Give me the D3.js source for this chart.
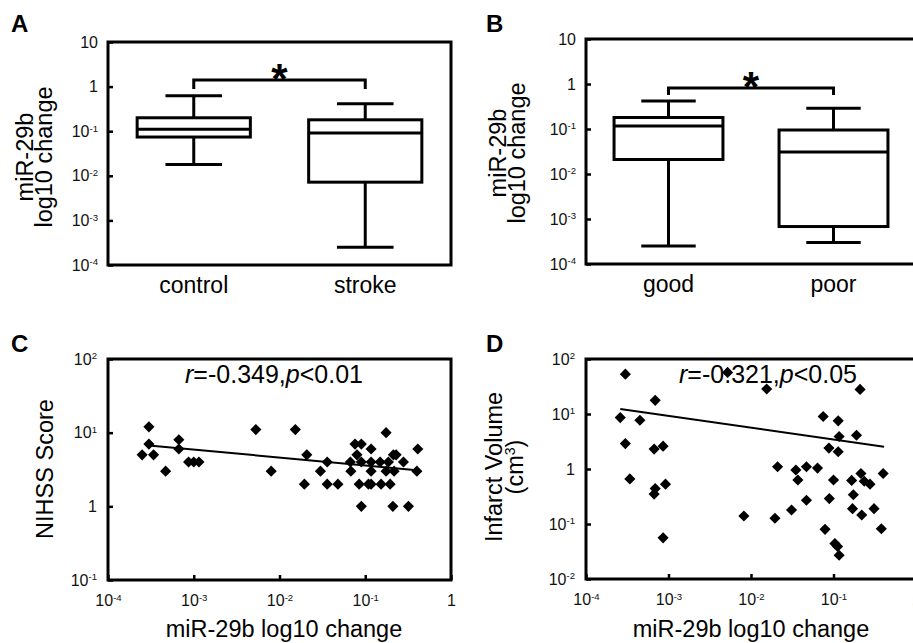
<!DOCTYPE html>
<html lang="en">
<head>
<meta charset="UTF-8">
<title>miR-29b box plots and correlations</title>
<script src="https://d3js.org/d3.v7.min.js"></script>
<style>
  body { margin: 0; background: #fff; }
  svg { display: block; font-family: "Liberation Sans", Arial, sans-serif; }
  .frame { fill: none; stroke: #000; stroke-width: 3px; }
  .tick line { stroke: #000; stroke-width: 2.5px; }
  .tick text { font-size: 16px; fill: #111; }
  .box { fill: #fff; stroke: #000; stroke-width: 3px; }
  .whisk { stroke: #000; stroke-width: 3px; fill: none; }
  .fit { stroke: #000; stroke-width: 2px; fill: none; }
</style>
</head>
<body>
<svg width="913" height="643"></svg>
<script>
// A: control vs stroke
const catsA = ["control", "stroke"];
const loA = [0.018, 0.00025];
const q1A = [0.074, 0.0072];
const medA = [0.11, 0.091];
const q3A = [0.2, 0.18];
const hiA = [0.62, 0.41];
const bracketA = [1.4, 0.88]; // bar level, end of legs

// B: good vs poor outcome
const catsB = ["good", "poor"];
const loB = [0.00025, 0.0003];
const q1B = [0.021, 0.00068];
const medB = [0.117, 0.031];
const q3B = [0.18, 0.095];
const hiB = [0.42, 0.29];
const bracketB = [0.81, 0.57];

const boxTicks = [1e-4, 1e-3, 1e-2, 1e-1, 1, 10];

// C: miR-29b vs NIHSS score
const xC = [3.0e-4, 3.0e-4, 2.5e-4, 3.4e-4, 4.7e-4, 6.7e-4, 6.7e-4, 8.7e-4, 1.0e-3, 1.15e-3,
            5.3e-3, 8.0e-3, 0.0153, 0.0208, 0.0195, 0.030, 0.036, 0.036, 0.048, 0.067,
            0.068, 0.076, 0.090, 0.080, 0.090, 0.085, 0.090, 0.117, 0.117, 0.117,
            0.109, 0.117, 0.149, 0.153, 0.175, 0.186, 0.175, 0.195, 0.213, 0.229,
            0.217, 0.21, 0.279, 0.319, 0.41, 0.40];
const yC = [12, 7, 5, 5, 3, 8, 6, 4, 4, 4,
            11, 3, 11, 5, 2, 3, 4, 2, 2, 4,
            3, 7, 7, 5, 4, 2, 1, 6, 4, 3,
            2, 2, 4, 2, 10, 4, 3, 2, 5, 5,
            3, 1, 4, 1, 6, 3];
const fitC = [[3.0e-4, 6.7], [0.4, 3.1]];
const xTicks = [1e-4, 1e-3, 1e-2, 1e-1, 1];
const yTicksC = [0.1, 1, 10, 100];

// D: miR-29b vs infarct volume
const xD = [3.0e-4, 2.6e-4, 4.5e-4, 3.0e-4, 3.4e-4, 6.9e-4, 6.7e-4, 8.6e-4, 6.9e-4, 6.7e-4,
            9.2e-4, 8.6e-4, 5.2e-3, 8.2e-3, 0.0155, 0.021, 0.0195, 0.031, 0.035, 0.037,
            0.047, 0.047, 0.064, 0.075, 0.088, 0.10, 0.089, 0.079, 0.114, 0.117,
            0.114, 0.104, 0.112, 0.117, 0.166, 0.174, 0.17, 0.19, 0.21, 0.215,
            0.22, 0.236, 0.277, 0.31, 0.40, 0.38];
const yD = [53, 8.6, 7.7, 2.9, 0.66, 17.7, 2.3, 2.6, 0.44, 0.35,
            0.53, 0.056, 57, 0.14, 28.5, 1.1, 0.127, 0.18, 0.96, 0.63,
            1.1, 0.27, 1.04, 9, 2.4, 0.63, 0.29, 0.08, 7.5, 3.9,
            2.06, 0.044, 0.039, 0.027, 0.62, 0.34, 0.19, 4.1, 28, 0.83,
            0.146, 0.6, 0.53, 0.19, 0.83, 0.082];
const fitD = [[2.6e-4, 12.3], [0.41, 2.55]];
const yTicksD = [0.01, 0.1, 1, 10, 100];

const svg = d3.select("svg");
svg.append("rect").attr("width", 913).attr("height", 643).attr("fill", "#fff");

// 10 with superscript exponent
function powLabel(text, v, plainTen) {
  const e = Math.round(Math.log10(v));
  text.text(null);
  if (e === 0) { text.text("1"); return; }
  if (e === 1 && plainTen) { text.text("10"); return; }
  text.append("tspan").text("10");
  text.append("tspan").attr("font-size", "0.6em").attr("dy", "-0.55em").text(e);
}

function panelLetter(x, y, s) {
  svg.append("text").attr("x", x).attr("y", y)
    .attr("font-size", 24).attr("font-weight", "bold").text(s);
}

function yTitle(lines, cx, cy, gap) {
  const t = svg.append("text")
    .attr("transform", `translate(${cx},${cy}) rotate(-90)`)
    .attr("text-anchor", "middle").attr("font-size", 23.5);
  lines.forEach((l, i) => {
    const ts = t.append("tspan").attr("x", 0).attr("y", i * gap);
    if (l === "(cm3)") {
      ts.text("(cm");
      ts.append("tspan").attr("font-size", "0.6em").attr("dy", "-0.6em").text("3");
      ts.append("tspan").attr("dy", "0.36em").text(")");
    } else {
      ts.text(l);
    }
  });
}

function boxPanel(o) {
  const g = svg.append("g");
  const x = d3.scalePoint().domain(o.cats).range([o.left, o.right]).padding(0.5);
  const y = d3.scaleLog().domain([1e-4, 10]).range([o.bottom, o.top]);
  const step = x.step();
  const bw = step * 0.66, cw = step * 0.33;

  g.append("g").attr("transform", `translate(${o.left},0)`)
    .call(d3.axisLeft(y).tickValues(boxTicks).tickSize(-5).tickPadding(10).tickFormat(""))
    .call(a => a.select(".domain").remove())
    .selectAll(".tick text").each(function(d) { powLabel(d3.select(this), d, true); });

  o.cats.forEach((c, i) => {
    const cx = x(c);
    g.append("line").attr("class", "whisk")
      .attr("x1", cx).attr("x2", cx).attr("y1", y(o.lo[i])).attr("y2", y(o.hi[i]));
    g.append("rect").attr("class", "box")
      .attr("x", cx - bw / 2).attr("width", bw)
      .attr("y", y(o.q3[i])).attr("height", y(o.q1[i]) - y(o.q3[i]));
    g.append("line").attr("class", "whisk")
      .attr("x1", cx - bw / 2).attr("x2", cx + bw / 2).attr("y1", y(o.med[i])).attr("y2", y(o.med[i]));
    [o.lo[i], o.hi[i]].forEach(v => {
      g.append("line").attr("class", "whisk")
        .attr("x1", cx - cw / 2).attr("x2", cx + cw / 2).attr("y1", y(v)).attr("y2", y(v));
    });
    g.append("text").attr("x", cx).attr("y", o.bottom + 28)
      .attr("text-anchor", "middle").attr("font-size", 23).text(c);
  });

  // significance bracket
  const x1 = x(o.cats[0]), x2 = x(o.cats[1]);
  const yb = y(o.bracket[0]), yl = y(o.bracket[1]);
  g.append("path").attr("class", "whisk").attr("stroke-width", 2.5)
    .attr("d", `M${x1},${yl}V${yb}H${x2}V${yl}`);
  g.append("text").attr("x", (x1 + x2) / 2).attr("y", yb - 11 + 0.58 * 42)
    .attr("text-anchor", "middle").attr("font-size", 42).attr("font-weight", "bold").text("*");

  g.append("rect").attr("class", "frame")
    .attr("x", o.left).attr("y", o.top).attr("width", o.right - o.left).attr("height", o.bottom - o.top);
}

function scatterPanel(o) {
  const g = svg.append("g");
  const x = d3.scaleLog().domain([1e-4, 1]).range([o.left, o.right]);
  const y = d3.scaleLog().domain(o.yDomain).range([o.bottom, o.top]);

  g.append("g").attr("transform", `translate(${o.left},0)`)
    .call(d3.axisLeft(y).tickValues(o.yTicks).tickSize(-5).tickPadding(11).tickFormat(""))
    .call(a => a.select(".domain").remove())
    .selectAll(".tick text").each(function(d) { powLabel(d3.select(this), d, false); });

  g.append("g").attr("transform", `translate(0,${o.bottom})`)
    .call(d3.axisBottom(x).tickValues(xTicks).tickSize(-5).tickPadding(15).tickFormat(""))
    .call(a => a.select(".domain").remove())
    .selectAll(".tick text").each(function(d) { powLabel(d3.select(this), d, false); });

  // correlation text
  const t = g.append("text").attr("x", o.noteX).attr("y", o.top + 24)
    .attr("text-anchor", "middle").attr("font-size", 25);
  t.append("tspan").attr("font-style", "italic").text("r");
  t.append("tspan").text(o.note[0]);
  t.append("tspan").attr("font-style", "italic").text("p");
  t.append("tspan").text(o.note[1]);

  g.append("path").attr("class", "fit")
    .attr("d", d3.line().x(d => x(d[0])).y(d => y(d[1]))(o.fit));

  g.selectAll("path.pt").data(d3.zip(o.xs, o.ys)).join("path")
    .attr("class", "pt")
    .attr("d", d3.symbol(d3.symbolSquare, 62)())
    .attr("transform", d => `translate(${x(d[0])},${y(d[1])}) rotate(45)`)
    .attr("fill", "#000");

  g.append("rect").attr("class", "frame")
    .attr("x", o.left).attr("y", o.top).attr("width", o.right - o.left).attr("height", o.bottom - o.top);

  svg.append("text").attr("x", o.titleX).attr("y", 637)
    .attr("text-anchor", "middle").attr("font-size", 23.5).text("miR-29b log10 change");
}

boxPanel({ cats: catsA, lo: loA, q1: q1A, med: medA, q3: q3A, hi: hiA, bracket: bracketA,
           left: 108, right: 451, top: 42, bottom: 265 });
boxPanel({ cats: catsB, lo: loB, q1: q1B, med: medB, q3: q3B, hi: hiB, bracket: bracketB,
           left: 586, right: 916, top: 39, bottom: 264 });

scatterPanel({ xs: xC, ys: yC, fit: fitC, yDomain: [0.1, 100], yTicks: yTicksC,
               note: ["=-0.349,", "<0.01"], noteX: 274, titleX: 284,
               left: 108, right: 451, top: 359, bottom: 580 });
scatterPanel({ xs: xD, ys: yD, fit: fitD, yDomain: [0.01, 100], yTicks: yTicksD,
               note: ["=-0.321,", "<0.05"], noteX: 768, titleX: 751,
               left: 586, right: 916, top: 359, bottom: 579 });

yTitle(["miR-29b", "log10 change"], 33, 157, 19);
yTitle(["miR-29b", "log10 change"], 506, 153, 19);
yTitle(["NIHSS Score"], 53, 469, 0);
yTitle(["Infarct Volume", "(cm3)"], 502, 467, 21);

panelLetter(11, 32, "A");
panelLetter(486, 32, "B");
panelLetter(11, 352, "C");
panelLetter(486, 352, "D");
</script>
</body>
</html>
